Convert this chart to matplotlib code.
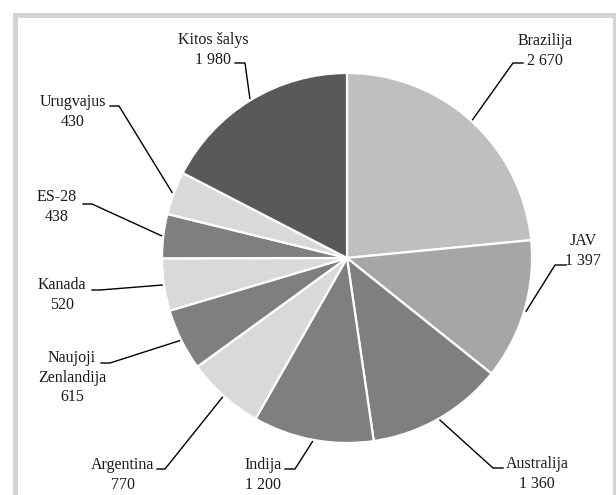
import numpy as np
import matplotlib.pyplot as plt
from matplotlib.patches import Rectangle

# data
countries = ["Brazilija", "JAV", "Australija", "Indija", "Argentina",
             "Naujoji\nZenlandija", "Kanada", "ES-28", "Urugvajus", "Kitos šalys"]
values = [2670, 1397, 1360, 1200, 770, 615, 520, 438, 430, 1980]
value_labels = ["2 670", "1 397", "1 360", "1 200", "770", "615", "520", "438", "430", "1 980"]
colors = ["#bfbfbf", "#a6a6a6", "#7f7f7f", "#7f7f7f", "#d9d9d9",
          "#7f7f7f", "#d9d9d9", "#7f7f7f", "#d9d9d9", "#595959"]

W, H = 616, 495
CENTER = (347, 258)   # image pixel coords (y down)
RADIUS = 185

# label layout in image pixels: text centre x, first line y, elbow x, elbow y, end of horizontal tick
label_layout = [
    (545, 42, 513, 63, 523),
    (583, 242, 555, 265, 566),
    (537, 465, 493, 468, 503),
    (263, 466, 295, 469, 285),
    (123, 466, 165, 469, 157),
    (72, 359, 110, 363, 101),
    (62, 286, 100, 290, 92),
    (57, 198, 92, 204, 83),
    (73, 103, 119, 106, 110),
    (213, 41, 245, 63, 235),
]


def fy(y):
    return H - y


fig = plt.figure(figsize=(W / 100, H / 100), dpi=100)
ax = fig.add_axes([0, 0, 1, 1])
ax.set_xlim(0, W)
ax.set_ylim(0, H)
ax.set_aspect("equal")
ax.axis("off")

# light grey frame
ax.add_patch(Rectangle((13, -50), 700, fy(13) + 50, facecolor="#d4d4d4", edgecolor="none", zorder=0))
ax.add_patch(Rectangle((18, -50), 613 - 18, fy(18) + 50, facecolor="white", edgecolor="none", zorder=0))

wedges, _ = ax.pie(
    values,
    colors=colors,
    startangle=90,
    counterclock=False,
    center=(CENTER[0], fy(CENTER[1])),
    radius=RADIUS,
    wedgeprops=dict(edgecolor="white", linewidth=1.6),
    frame=True,
)
ax.set_xlim(0, W)
ax.set_ylim(0, H)
ax.axis("off")

font = dict(family=["Liberation Serif", "DejaVu Serif"], size=11.5)
for wedge, name, val, (tx, ty, ex, ey, hx) in zip(wedges, countries, value_labels, label_layout):
    mid = np.deg2rad((wedge.theta1 + wedge.theta2) / 2)
    px = CENTER[0] + RADIUS * 1.01 * np.cos(mid)
    py = fy(CENTER[1]) + RADIUS * 1.01 * np.sin(mid)
    ax.plot([px, ex, hx], [py, fy(ey), fy(ey)], color="black", linewidth=1.0, zorder=3)
    ax.text(tx, fy(ty - 9), f"{name}\n{val}", ha="center", va="top",
            linespacing=1.3, color="#1a1a1a", **font)

fig.savefig("out.png", dpi=100)
